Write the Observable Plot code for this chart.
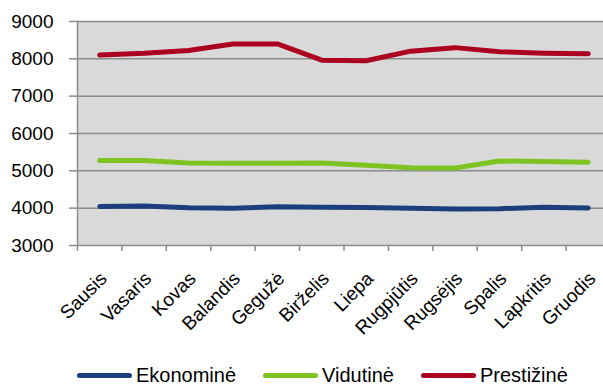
<!DOCTYPE html>
<html>
<head>
<meta charset="utf-8">
<script src="https://cdn.jsdelivr.net/npm/d3@7"></script>
<script src="https://cdn.jsdelivr.net/npm/@observablehq/plot@0.6"></script>
<style>
  html, body { margin: 0; padding: 0; background: #fff; }
  body { width: 603px; height: 385px; overflow: hidden; font-family: "Liberation Sans", Arial, sans-serif; }
  #chart svg { display: block; overflow: hidden; }
  #chart g[aria-label="y-axis tick"] path,
  #chart g[aria-label="x-axis tick"] path { stroke: #8c8c8c; stroke-width: 1.5; }
  .legend { display: flex; align-items: center; height: 20px; margin-top: 10px; padding-left: 77px; font-size: 20px; color: #000; }
  .legend .item { display: flex; align-items: center; margin-right: 27px; }
  .legend .sw { width: 55px; height: 5px; border-radius: 3px; margin-right: 4px; }
</style>
</head>
<body>
<div id="chart"></div>
<script>
// Months (Lithuanian)
const months = ["Sausis", "Vasaris", "Kovas", "Balandis", "Gegužė", "Birželis",
  "Liepa", "Rugpjūtis", "Rugsėjis", "Spalis", "Lapkritis", "Gruodis"];

// Series
const seriesNames = ["Ekonominė", "Vidutinė", "Prestižinė"];
const seriesColors = ["#1b3f7c", "#7dc422", "#ac0020"];

const ekonomine = [4045, 4055, 4010, 4000, 4035, 4025, 4020, 3998, 3975, 3985, 4025, 4005];
const vidutine  = [5275, 5275, 5212, 5200, 5200, 5210, 5150, 5085, 5075, 5262, 5252, 5232];
const prestizine = [8105, 8150, 8225, 8395, 8400, 7965, 7950, 8205, 8300, 8190, 8150, 8135];

const yTicks = [3000, 4000, 5000, 6000, 7000, 8000, 9000];

const seriesValues = [ekonomine, vidutine, prestizine];
const data = seriesNames.flatMap((name, s) =>
  seriesValues[s].map((value, i) => ({series: name, i, value})));

const idx = d3.range(months.length);
const boundaries = d3.range(months.length + 1).map(k => k - 0.5);

const chart = Plot.plot({
  width: 603,
  height: 355,
  marginTop: 21,
  marginBottom: 110,
  marginLeft: 77,
  marginRight: 0,
  style: {fontFamily: "'Liberation Sans', Arial, sans-serif", color: "#000", background: "#fff"},
  x: {type: "linear", domain: [-0.5, months.length - 0.5], range: [77, 610], label: null},
  y: {domain: [3000, 9000], label: null},
  color: {domain: seriesNames, range: seriesColors},
  marks: [
    Plot.frame({fill: "#d9d9d9", stroke: null}),
    Plot.ruleY(yTicks, {stroke: "#8c8c8c", strokeWidth: 1.5}),
    Plot.ruleX([-0.5], {stroke: "#8c8c8c", strokeWidth: 1.5}),
    Plot.axisY({ticks: yTicks, tickSize: 8, tickPadding: 16, fontSize: 19, label: null,
      tickFormat: d => String(d)}),
    Plot.axisX({ticks: boundaries, tickSize: 6, tickFormat: () => "", label: null}),
    // month labels, rotated under each band
    Plot.text(idx, {x: d => d, text: d => months[d], frameAnchor: "bottom",
      rotate: -45, textAnchor: "end", lineAnchor: "middle", fontSize: 19,
      dx: 4, dy: 30, fill: "#000"}),
    Plot.line(data, {x: "i", y: "value", z: "series", stroke: "series", strokeWidth: 5,
      strokeLinecap: "round", strokeLinejoin: "round"})
  ]
});
document.getElementById("chart").append(chart);

// Legend
const legend = document.createElement("div");
legend.className = "legend";
seriesNames.forEach((name, s) => {
  const item = document.createElement("div");
  item.className = "item";
  const sw = document.createElement("span");
  sw.className = "sw";
  sw.style.background = seriesColors[s];
  const label = document.createElement("span");
  label.textContent = name;
  item.append(sw, label);
  legend.append(item);
});
document.body.append(legend);
</script>
</body>
</html>
